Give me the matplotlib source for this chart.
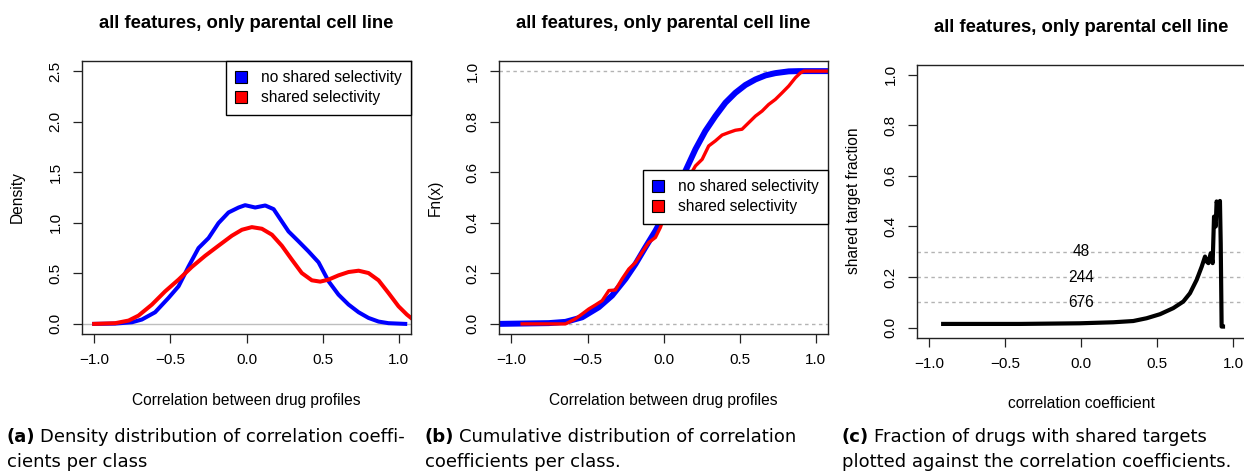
import numpy as np
import matplotlib
matplotlib.use("Agg")
import matplotlib.pyplot as plt
from matplotlib.patches import Patch

W, H = 1244, 471
DPI = 100

title = "all features, only parental cell line"
legend_labels = ["no shared selectivity", "shared selectivity"]

# (a) density curves
dens_x_no = [-1.0, -0.862, -0.752, -0.687, -0.6, -0.512, -0.446, -0.38, -0.315, -0.249,
             -0.184, -0.118, -0.052, -0.009, 0.057, 0.123, 0.178, 0.232, 0.276, 0.342,
             0.407, 0.473, 0.539, 0.604, 0.67, 0.736, 0.801, 0.867, 0.932, 1.042]
dens_y_no = [0.0, 0.003, 0.016, 0.043, 0.115, 0.257, 0.372, 0.569, 0.75, 0.849,
             0.997, 1.102, 1.151, 1.174, 1.151, 1.171, 1.135, 1.013, 0.914, 0.816,
             0.717, 0.609, 0.421, 0.289, 0.191, 0.115, 0.059, 0.023, 0.007, 0.0]
dens_x_sh = [-1.0, -0.862, -0.774, -0.709, -0.621, -0.534, -0.446, -0.359, -0.271, -0.184,
             -0.096, -0.03, 0.035, 0.101, 0.167, 0.232, 0.298, 0.363, 0.429, 0.484,
             0.539, 0.604, 0.67, 0.736, 0.801, 0.867, 0.932, 0.998, 1.053, 1.086]
dens_y_sh = [0.0, 0.007, 0.033, 0.082, 0.191, 0.322, 0.438, 0.563, 0.674, 0.773,
             0.872, 0.931, 0.957, 0.941, 0.882, 0.773, 0.635, 0.503, 0.431, 0.418,
             0.438, 0.48, 0.513, 0.526, 0.503, 0.431, 0.306, 0.174, 0.092, 0.052]

# (b) empirical cumulative distributions
ecdf_x_no = [-1.083, -0.755, -0.645, -0.536, -0.426, -0.339, -0.251, -0.185, -0.12, -0.054,
             0.012, 0.077, 0.143, 0.209, 0.274, 0.34, 0.406, 0.471, 0.537, 0.603,
             0.669, 0.734, 0.822, 0.888, 1.085]
ecdf_y_no = [0.0, 0.003, 0.008, 0.026, 0.066, 0.112, 0.178, 0.237, 0.303, 0.368,
             0.441, 0.52, 0.605, 0.691, 0.763, 0.822, 0.875, 0.914, 0.945, 0.967,
             0.983, 0.992, 0.999, 1.0, 1.0]
ecdf_x_sh = [-0.93, -0.645, -0.58, -0.536, -0.492, -0.448, -0.404, -0.36, -0.317, -0.273,
             -0.229, -0.185, -0.142, -0.098, -0.054, -0.021, 0.012, 0.045, 0.077, 0.121,
             0.165, 0.209, 0.253, 0.296, 0.34, 0.384, 0.428, 0.471, 0.515, 0.559,
             0.603, 0.647, 0.69, 0.734, 0.778, 0.822, 0.866, 0.899, 0.92, 1.085]
ecdf_y_sh = [0.0, 0.0, 0.02, 0.039, 0.059, 0.075, 0.092, 0.132, 0.134, 0.178,
             0.217, 0.243, 0.283, 0.322, 0.342, 0.382, 0.441, 0.474, 0.5, 0.533,
             0.579, 0.625, 0.651, 0.704, 0.724, 0.747, 0.757, 0.766, 0.77, 0.796,
             0.822, 0.842, 0.868, 0.888, 0.914, 0.941, 0.974, 0.993, 1.0, 1.0]

# (c) shared target fraction vs correlation
frac_x = [-0.908, -0.404, -0.009, 0.21, 0.342, 0.43, 0.518, 0.605, 0.671, 0.715,
          0.759, 0.792, 0.814, 0.825, 0.836, 0.851, 0.864, 0.873, 0.884, 0.89,
          0.901, 0.912, 0.917, 0.923, 0.932]
frac_y = [0.0145, 0.0145, 0.017, 0.021, 0.026, 0.037, 0.053, 0.077, 0.103, 0.136,
          0.189, 0.241, 0.281, 0.261, 0.255, 0.294, 0.255, 0.439, 0.40, 0.499,
          0.479, 0.501, 0.334, 0.004, 0.004]
frac_levels = [0.3, 0.2, 0.1]
frac_counts = ["48", "244", "676"]

captions = [("(a)", ["Density distribution of correlation coeffi-", "cients per class"]),
            ("(b)", ["Cumulative distribution of correlation", "coefficients per class."]),
            ("(c)", ["Fraction of drugs with shared targets",
                     "plotted against the correlation coefficients."])]

plt.rcParams['font.family'] = ['Liberation Sans', 'DejaVu Sans']

fig = plt.figure(figsize=(W / DPI, H / DPI), dpi=DPI)


def fx(px):
    return px / W


def fy(py):
    return 1 - py / H


def r_axes(left, top, right, bottom):
    ax = fig.add_axes([fx(left), fy(bottom), (right - left) / W, (bottom - top) / H])
    for s in ax.spines.values():
        s.set_linewidth(1.0)
        s.set_color('#222222')
    ax.tick_params(length=6.5, width=0.9, labelsize=11, pad=7.5, color='#222222')
    ax.tick_params(axis='y', labelrotation=90)
    ax.set_xlim(-1.08, 1.08)
    ax.set_xticks([-1.0, -0.5, 0.0, 0.5, 1.0])
    ax.set_xticklabels(['\u22121.0', '\u22120.5', '0.0', '0.5', '1.0'])
    return ax


def r_legend(ax, **kw):
    handles = [Patch(facecolor='#0000ff', edgecolor='black', linewidth=0.8),
               Patch(facecolor='#ff0000', edgecolor='black', linewidth=0.8)]
    leg = ax.legend(handles, legend_labels, fontsize=11.2, fancybox=False,
                    framealpha=1, edgecolor='black', handlelength=0.75,
                    handleheight=0.75, handletextpad=0.9, borderpad=0.6,
                    labelspacing=0.32, borderaxespad=0, **kw)
    leg.get_frame().set_linewidth(1.0)
    return leg


# ---- (a) density
ax1 = r_axes(82, 61, 411, 334)
ax1.set_ylim(-0.1, 2.6)
ax1.set_yticks([0.0, 0.5, 1.0, 1.5, 2.0, 2.5])
ax1.axhline(0, color='#bebebe', lw=1.0, zorder=1)
ax1.plot(dens_x_no, dens_y_no, color='#0000ff', lw=2.9, solid_joinstyle='round')
ax1.plot(dens_x_sh, dens_y_sh, color='#ff0000', lw=2.9, solid_joinstyle='round')
r_legend(ax1, loc='upper right')

# ---- (b) ecdf
ax2 = r_axes(499.3, 61, 828, 334)
ax2.set_ylim(-0.04, 1.04)
ax2.set_yticks([0.0, 0.2, 0.4, 0.6, 0.8, 1.0])
for v in [0, 1]:
    ax2.axhline(v, color='#b3b3b3', lw=1.0, ls=(0, (2.5, 2.5)), zorder=1)
ax2.plot(ecdf_x_no, ecdf_y_no, color='#0000ff', lw=4.3, solid_joinstyle='round')
ax2.plot(ecdf_x_sh, ecdf_y_sh, color='#ff0000', lw=2.4, solid_joinstyle='round')
r_legend(ax2, loc='upper right', bbox_to_anchor=(1.0, 0.6007))

# ---- (c) shared target fraction
ax3 = r_axes(917, 64.7, 1245.5, 337.7)
ax3.set_ylim(-0.04, 1.04)
ax3.set_yticks([0.0, 0.2, 0.4, 0.6, 0.8, 1.0])
for v, n in zip(frac_levels, frac_counts):
    ax3.axhline(v, color='#b3b3b3', lw=1.0, ls=(0, (2.5, 2.5)), zorder=1)
    ax3.text(0.0, v, n, fontsize=11.2, ha='center', va='center')
ax3.plot(frac_x, frac_y, color='black', lw=3.0, solid_joinstyle='round')

for ax in (ax1, ax2, ax3):
    for lab in ax.get_yticklabels():
        lab.set_va('center')

# titles and axis labels in R placement
for cx, ty in [(246.5, 24), (663.6, 24), (1081, 28)]:
    fig.text(fx(cx), fy(ty), title, fontsize=13.3, fontweight='bold', ha='center', va='center')
fig.text(fx(246.5), fy(400), "Correlation between drug profiles", fontsize=11.2, ha='center', va='center')
fig.text(fx(663.6), fy(400), "Correlation between drug profiles", fontsize=11.2, ha='center', va='center')
fig.text(fx(1081), fy(403), "correlation coefficient", fontsize=11.2, ha='center', va='center')
fig.text(fx(17.7), fy(197.5), "Density", fontsize=11.2, rotation=90, ha='center', va='center')
fig.text(fx(435.7), fy(197.5), "Fn(x)", fontsize=11.2, rotation=90, ha='center', va='center')
fig.text(fx(853.3), fy(201), "shared target fraction", fontsize=11.2, rotation=90, ha='center', va='center')

# captions (LaTeX subcaptions)
renderer = fig.canvas.get_renderer()
cap_font = ['DejaVu Sans']
cap_size = 13.0
for x0, (tag, lines) in zip([7, 425, 841.7], captions):
    t = fig.text(fx(x0), fy(441.7), tag, fontsize=cap_size, fontweight='bold',
                 family=cap_font, va='baseline')
    bb = t.get_window_extent(renderer)
    fig.text(fx(bb.x1 + 5), fy(441.7), lines[0], fontsize=cap_size, family=cap_font, va='baseline')
    fig.text(fx(x0), fy(466.7), lines[1], fontsize=cap_size, family=cap_font, va='baseline')

fig.savefig("out.png", dpi=DPI)
